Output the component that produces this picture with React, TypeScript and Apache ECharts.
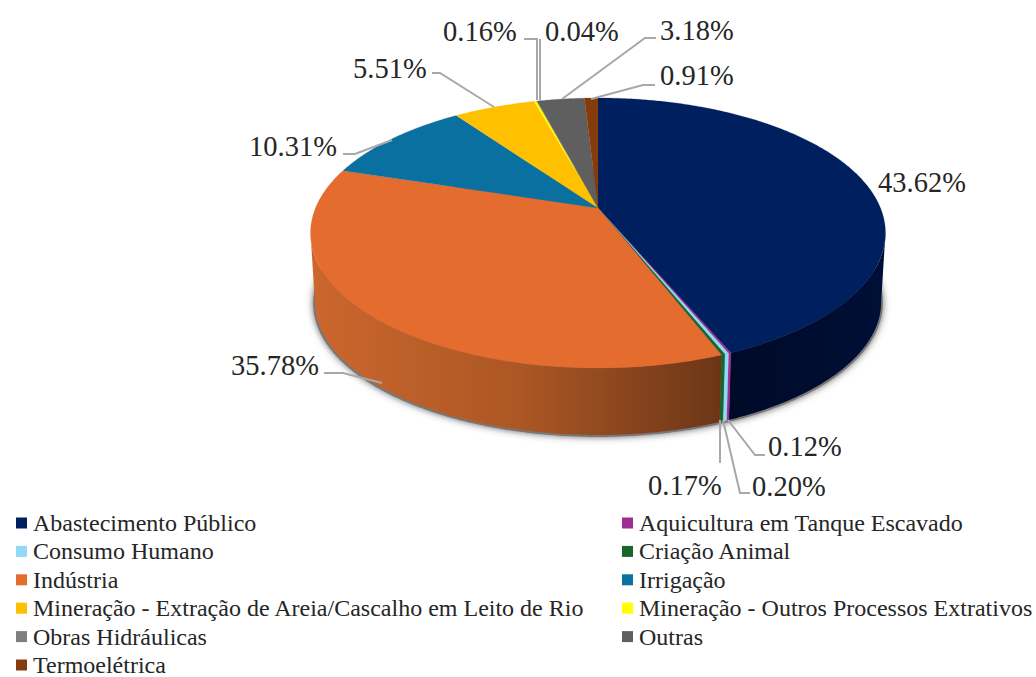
import React, { useEffect, useRef } from "react";
import * as echarts from "echarts";

const categories = [
  "Abastecimento Público",
  "Aquicultura em Tanque Escavado",
  "Consumo Humano",
  "Criação Animal",
  "Indústria",
  "Irrigação",
  "Mineração - Extração de Areia/Cascalho em Leito de Rio",
  "Mineração - Outros Processos Extrativos",
  "Obras Hidráulicas",
  "Outras",
  "Termoelétrica",
];
const shares = [43.62, 0.12, 0.2, 0.17, 35.78, 10.31, 5.51, 0.16, 0.04, 3.18, 0.91];
const topColors = ["#001F5F", "#A02B93", "#92D8F8", "#17672B", "#E46C2F", "#0A70A0", "#FFC000", "#FFFF00", "#7F7F7F", "#5F5F5F", "#843C0C"];
const legendLeft = [0, 2, 4, 6, 8, 10].map((i) => categories[i]);
const legendRight = [1, 3, 5, 7, 9].map((i) => categories[i]);

// Label placement: text left edge / centre y, then the leader line vertices.
const labelLayout: { x: number; y: number; line: number[][] }[] = [
  { x: 878, y: 182, line: [] },
  { x: 768, y: 446, line: [[728, 420], [755, 455], [765, 455]] },
  { x: 752, y: 486, line: [[723, 420], [740, 493], [750, 493]] },
  { x: 648, y: 485, line: [[720, 420], [720, 463]] },
  { x: 231, y: 365, line: [[382, 383], [343, 373], [324, 373]] },
  { x: 249, y: 146, line: [[392, 140], [355, 154], [343, 154]] },
  { x: 353, y: 68, line: [[494, 107], [440, 73], [432, 73]] },
  { x: 443, y: 31, line: [[537, 100], [537, 39], [524, 39]] },
  { x: 545, y: 31, line: [[540, 100], [540, 39]] },
  { x: 660, y: 30, line: [[562, 99], [645, 38], [656, 38]] },
  { x: 660, y: 75, line: [[591, 99], [643, 85], [655, 85]] },
];

// Perspective projection of the disc
const P = 0.185;
const APEX_X = 598;
const TOP_APEX_Y = 208;
const BASE_APEX_Y = 277.4;
const RADIUS_X = 282.5;
const RADIUS_Y = 130.4;
const BASE_SCALE = 0.985;
const FRONT_FROM = 100.7;
const FRONT_TO = 259.3;

const rim = (deg: number, apexY: number, scale: number) => {
  const t = (deg * Math.PI) / 180;
  const u = Math.sin(t);
  const v = Math.cos(t);
  const w = 1 + P * v;
  return [APEX_X + (scale * RADIUS_X * u) / w, apexY - (scale * RADIUS_Y * v) / w];
};
const arcPoints = (from: number, to: number, apexY: number, scale: number) => {
  const n = Math.max(2, Math.ceil((to - from) / 0.5));
  const out: number[][] = [];
  for (let i = 0; i <= n; i++) out.push(rim(from + ((to - from) * i) / n, apexY, scale));
  return out;
};

const sideFill = (i: number) => {
  if (i === 4) {
    return new echarts.graphic.LinearGradient(316, 0, 725, 0, [
      { offset: 0, color: "#CB662C" },
      { offset: 0.5, color: "#AC5725" },
      { offset: 1, color: "#6A3516" },
    ], true);
  }
  if (i === 0) {
    return new echarts.graphic.LinearGradient(725, 0, 885, 0, [
      { offset: 0, color: "#000A28" },
      { offset: 1, color: "#000F36" },
    ], true);
  }
  return topColors[i];
};

const renderSlice = (i: number) => (_params: any, api: any) => {
  const value = api.value(0);
  const start = api.value(1);
  const a0 = (start / 100) * 360;
  const a1 = ((start + value) / 100) * 360;
  const children: any[] = [];
  const f0 = Math.max(a0, FRONT_FROM);
  const f1 = Math.min(a1, FRONT_TO);
  if (f1 > f0) {
    const upper = arcPoints(f0, f1, TOP_APEX_Y, 1);
    const lower = arcPoints(f0, f1, BASE_APEX_Y, BASE_SCALE).reverse();
    children.push({
      type: "polygon",
      shape: { points: upper.concat(lower) },
      style: { fill: sideFill(i), stroke: i === 0 || i === 4 ? null : topColors[i], lineWidth: 0.2 },
    });
  }
  children.push({
    type: "polygon",
    shape: { points: [[APEX_X, TOP_APEX_Y], ...arcPoints(a0, a1, TOP_APEX_Y, 1)] },
    style: { fill: topColors[i], stroke: topColors[i], lineWidth: 0.2 },
  });
  return { type: "group", children };
};

const renderLabel = (i: number) => (_params: any, api: any) => {
  const layout = labelLayout[i];
  const children: any[] = [];
  if (layout.line.length) {
    children.push({
      type: "polyline",
      shape: { points: layout.line },
      style: { stroke: "#A8A8A8", lineWidth: 2, fill: null },
    });
  }
  children.push({
    type: "text",
    x: layout.x,
    y: layout.y,
    style: {
      text: api.value(0).toFixed(2) + "%",
      font: "28.5px 'Liberation Serif'",
      fill: "#262626",
      textAlign: "left",
      textVerticalAlign: "middle",
    },
  });
  return { type: "group", children };
};

const renderShadow = () => ({
  type: "polygon",
  shape: { points: arcPoints(0, 360, BASE_APEX_Y + 1, BASE_SCALE * 1.006) },
  style: { fill: "#777", shadowBlur: 7, shadowColor: "rgba(60,60,60,0.8)" },
});

let cumulative = 0;
const starts = shares.map((s) => {
  const c = cumulative;
  cumulative += s;
  return c;
});

const legendBase = {
  orient: "vertical" as const,
  icon: "rect",
  itemWidth: 11,
  itemHeight: 11,
  itemGap: 4.4,
  padding: 0,
  height: 240,
  selectedMode: false,
  textStyle: {
    fontFamily: "Liberation Serif",
    fontSize: 24,
    lineHeight: 22,
    color: "#262626",
    padding: [0, 0, 0, 1],
  },
};

export default function App() {
  const ref = useRef<HTMLDivElement>(null);
  useEffect(() => {
    const chart = echarts.init(ref.current!, null, { renderer: "svg" });
    chart.setOption({
      animation: false,
      backgroundColor: "#fff",
      tooltip: { show: false },
      legend: [
        { ...legendBase, data: legendLeft, left: 16, top: 511 },
        { ...legendBase, data: legendRight, left: 622, top: 511 },
      ],
      series: [
        {
          type: "custom",
          name: "base",
          coordinateSystem: "none",
          silent: true,
          z: 1,
          data: [[0]],
          renderItem: renderShadow,
        },
        ...categories.map((name, i) => ({
          type: "custom",
          name,
          coordinateSystem: "none",
          silent: true,
          z: 2,
          itemStyle: { color: topColors[i] },
          data: [[shares[i], starts[i]]],
          renderItem: renderSlice(i),
        })),
        ...categories.map((name, i) => ({
          type: "custom",
          name: name + " (rótulo)",
          coordinateSystem: "none",
          silent: true,
          z: 3,
          data: [[shares[i]]],
          renderItem: renderLabel(i),
        })),
      ],
    });
    return () => chart.dispose();
  }, []);
  return <div ref={ref} style={{ position: "absolute", left: 0, top: 0, width: 1036, height: 677 }} />;
}
